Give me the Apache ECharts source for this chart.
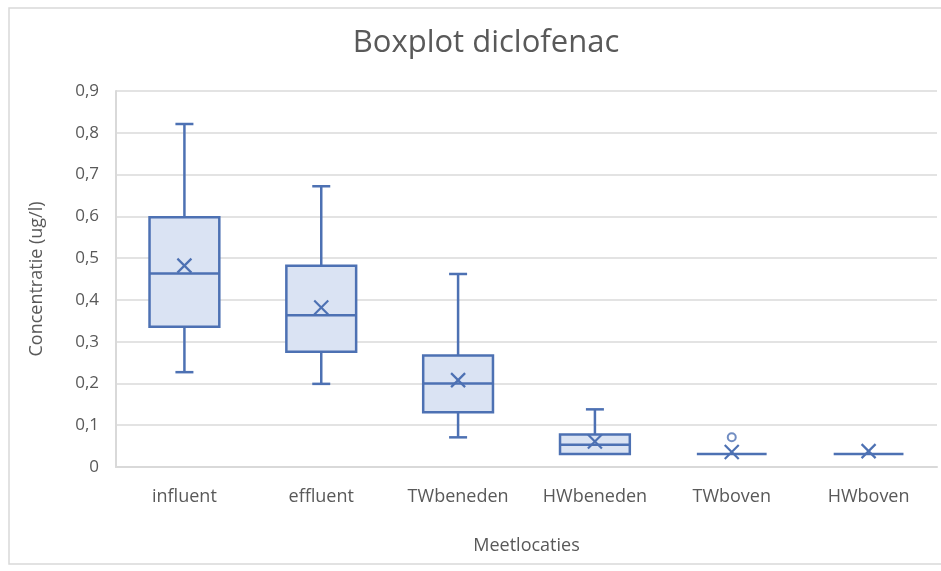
<!DOCTYPE html>
<html>
<head>
<meta charset="utf-8">
<script src="https://cdn.jsdelivr.net/npm/echarts@6/dist/echarts.min.js"></script>
<style>html,body{margin:0;padding:0;background:#fff}#c{width:941px;height:571px}</style>
</head>
<body>
<div id="c"></div>
<script>
const categories = ['influent', 'effluent', 'TWbeneden', 'HWbeneden', 'TWboven', 'HWboven'];
const minVals    = [0.227, 0.199, 0.071, 0.031, 0.031, 0.031];
const q1Vals     = [0.336, 0.276, 0.131, 0.031, 0.031, 0.031];
const medianVals = [0.463, 0.363, 0.200, 0.053, 0.031, 0.031];
const q3Vals     = [0.598, 0.482, 0.267, 0.078, 0.031, 0.031];
const maxVals    = [0.821, 0.672, 0.462, 0.138, 0.031, 0.031];
const meanVals   = [0.482, 0.382, 0.208, 0.061, 0.036, 0.038];
const outlierCats = [4];
const outlierVals = [0.071];
const yTicks = [0, 0.1, 0.2, 0.3, 0.4, 0.5, 0.6, 0.7, 0.8, 0.9];

const STROKE = '#4d71b3';
const FILL = '#dae3f3';
const TXT = '#595959';
const FONT = 'Open Sans';

const boxData = categories.map((c, i) => [i, minVals[i], q1Vals[i], medianVals[i], q3Vals[i], maxVals[i]]);
const meanData = categories.map((c, i) => [i, meanVals[i]]);
const outData = outlierCats.map((c, i) => [c, outlierVals[i]]);

function renderBox(params, api) {
  const i = api.value(0);
  const pMin = api.coord([i, api.value(1)]);
  const pQ1 = api.coord([i, api.value(2)]);
  const pMed = api.coord([i, api.value(3)]);
  const pQ3 = api.coord([i, api.value(4)]);
  const pMax = api.coord([i, api.value(5)]);
  const bw = api.size([1, 0])[0] * 0.51;
  const cap = 18;
  const x = pMed[0];
  const st = {stroke: STROKE, lineWidth: 2.5, fill: null};
  const children = [];
  if (pQ1[1] - pQ3[1] > 0.5) {
    children.push({type: 'rect', shape: {x: x - bw / 2, y: pQ3[1], width: bw, height: pQ1[1] - pQ3[1]}, style: {fill: FILL, stroke: STROKE, lineWidth: 2.5}});
  }
  children.push({type: 'line', shape: {x1: x - bw / 2, y1: pMed[1], x2: x + bw / 2, y2: pMed[1]}, style: st});
  if (pQ3[1] - pMax[1] > 0.5) {
    children.push({type: 'line', shape: {x1: x, y1: pQ3[1], x2: x, y2: pMax[1]}, style: st});
    children.push({type: 'line', shape: {x1: x - cap / 2, y1: pMax[1], x2: x + cap / 2, y2: pMax[1]}, style: st});
  }
  if (pMin[1] - pQ1[1] > 0.5) {
    children.push({type: 'line', shape: {x1: x, y1: pQ1[1], x2: x, y2: pMin[1]}, style: st});
    children.push({type: 'line', shape: {x1: x - cap / 2, y1: pMin[1], x2: x + cap / 2, y2: pMin[1]}, style: st});
  }
  return {type: 'group', children: children};
}

function renderMean(params, api) {
  const p = api.coord([api.value(0), api.value(1)]);
  const h = 7;
  const st = {stroke: STROKE, lineWidth: 2.2};
  return {type: 'group', children: [
    {type: 'line', shape: {x1: p[0] - h, y1: p[1] - h, x2: p[0] + h, y2: p[1] + h}, style: st},
    {type: 'line', shape: {x1: p[0] - h, y1: p[1] + h, x2: p[0] + h, y2: p[1] - h}, style: st}
  ]};
}

const chart = echarts.init(document.getElementById('c'));
chart.setOption({
  animation: false,
  backgroundColor: '#fff',
  graphic: [{type: 'rect', shape: {x: 9, y: 8, width: 940, height: 556}, style: {fill: null, stroke: '#d9d9d9', lineWidth: 1.5}, silent: true}],
  title: {
    text: 'Boxplot diclofenac', left: 481, top: 23, textAlign: 'center',
    textStyle: {fontFamily: FONT, fontSize: 31, fontWeight: 'normal', color: TXT}
  },
  grid: {left: 116, right: 4, top: 91, bottom: 104},
  xAxis: {
    type: 'category', data: categories,
    name: 'Meetlocaties', nameLocation: 'middle', nameGap: 70,
    nameTextStyle: {fontFamily: FONT, fontSize: 18, color: TXT},
    axisLine: {show: true, lineStyle: {color: '#d9d9d9', width: 2}},
    axisTick: {show: false},
    axisLabel: {fontFamily: FONT, fontSize: 18, color: TXT, margin: 21},
    splitLine: {show: false}
  },
  yAxis: {
    type: 'value', min: 0, max: 0.9, interval: 0.1,
    name: 'Concentratie (ug/l)', nameLocation: 'middle', nameGap: 70,
    nameTextStyle: {fontFamily: FONT, fontSize: 18, color: TXT},
    axisLine: {show: true, lineStyle: {color: '#d9d9d9', width: 2}},
    axisTick: {show: false},
    axisLabel: {
      fontFamily: FONT, fontSize: 17, color: TXT, margin: 17,
      formatter: function (v) {
        const t = yTicks.find(k => Math.abs(k - v) < 1e-6);
        return (t === undefined ? v : t).toFixed(t === 0 ? 0 : 1).replace('.', ',');
      }
    },
    splitLine: {lineStyle: {color: '#e3e3e3', width: 2}}
  },
  series: [
    {type: 'custom', renderItem: renderBox, data: boxData, encode: {x: 0, y: [1, 2, 3, 4, 5]}, z: 2},
    {type: 'custom', renderItem: renderMean, data: meanData, encode: {x: 0, y: 1}, z: 3},
    {type: 'scatter', data: outData, symbol: 'emptyCircle', symbolSize: 8,
     itemStyle: {color: STROKE, borderColor: STROKE, borderWidth: 2}, z: 4}
  ]
});
</script>
</body>
</html>
